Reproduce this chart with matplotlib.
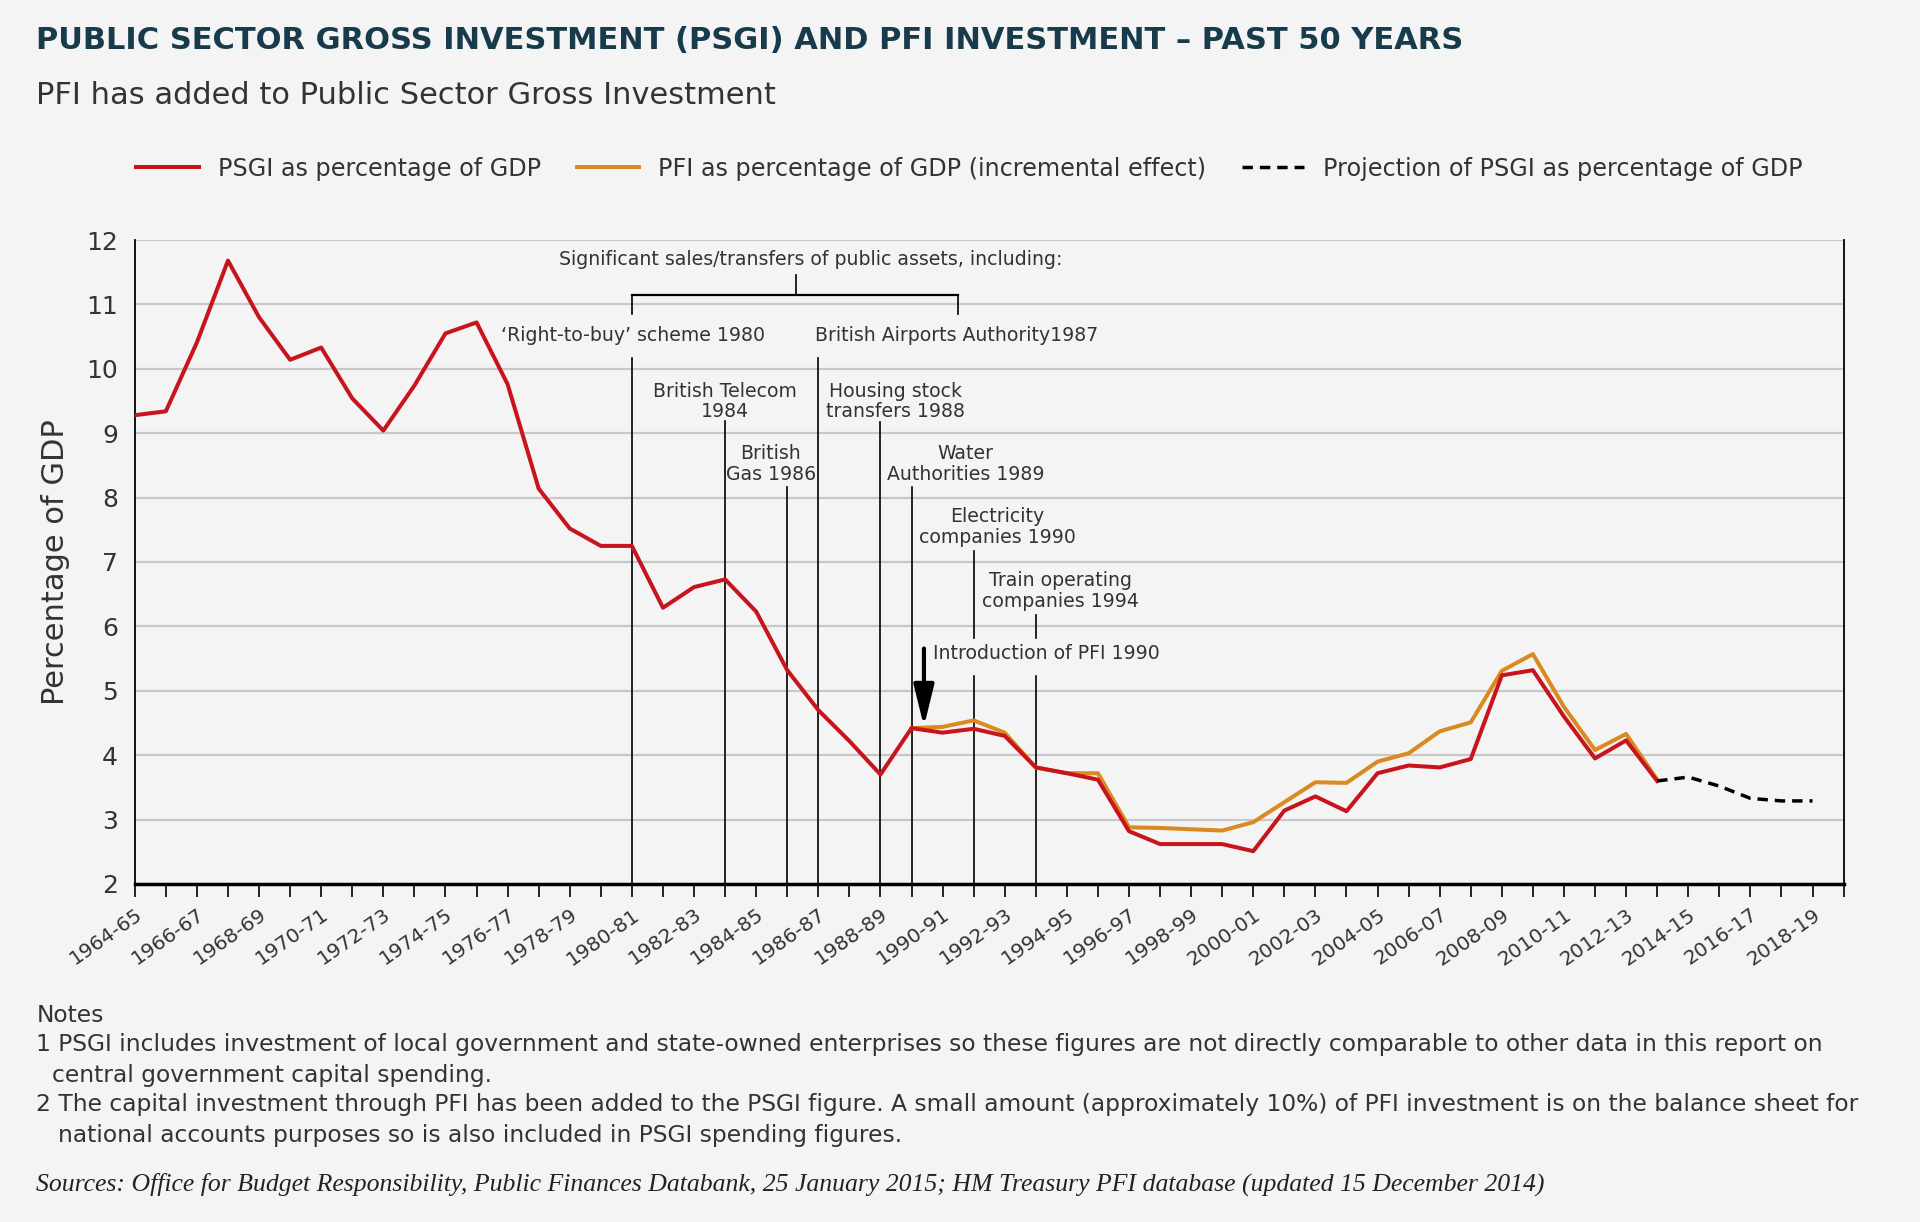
import matplotlib.pyplot as plt
from matplotlib.lines import Line2D

# fiscal years on the x axis (one slot per year, label every other one)
years = ["1964-65", "1965-66", "1966-67", "1967-68", "1968-69", "1969-70", "1970-71",
         "1971-72", "1972-73", "1973-74", "1974-75", "1975-76", "1976-77", "1977-78",
         "1978-79", "1979-80", "1980-81", "1981-82", "1982-83", "1983-84", "1984-85",
         "1985-86", "1986-87", "1987-88", "1988-89", "1989-90", "1990-91", "1991-92",
         "1992-93", "1993-94", "1994-95", "1995-96", "1996-97", "1997-98", "1998-99",
         "1999-00", "2000-01", "2001-02", "2002-03", "2003-04", "2004-05", "2005-06",
         "2006-07", "2007-08", "2008-09", "2009-10", "2010-11", "2011-12", "2012-13",
         "2013-14", "2014-15", "2015-16", "2016-17", "2017-18", "2018-19"]

# PSGI as % of GDP, 1964-65 .. 2013-14
psgi = [9.28, 9.34, 10.41, 11.68, 10.80, 10.14, 10.33, 9.54, 9.04, 9.74,
        10.55, 10.72, 9.76, 8.14, 7.52, 7.25, 7.25, 6.29, 6.61, 6.73,
        6.23, 5.32, 4.70, 4.22, 3.70, 4.42, 4.35, 4.41, 4.30, 3.81,
        3.72, 3.62, 2.82, 2.62, 2.62, 2.62, 2.51, 3.14, 3.36, 3.13,
        3.72, 3.84, 3.81, 3.94, 5.24, 5.32, 4.60, 3.95, 4.23, 3.60]

# PSGI + PFI (incremental effect), 1989-90 .. 2013-14
pfi_start = 25
psgi_pfi = [4.42, 4.44, 4.54, 4.35, 3.81, 3.72, 3.72, 2.88, 2.87, 2.85,
            2.83, 2.96, 3.27, 3.58, 3.57, 3.90, 4.03, 4.37, 4.51, 5.31,
            5.57, 4.75, 4.08, 4.33, 3.62]

# projection, 2013-14 .. 2018-19
proj_start = 49
projection = [3.60, 3.66, 3.52, 3.33, 3.29, 3.29]

RED = "#c8141c"
ORANGE = "#d98a20"
BG = "#f4f4f4"
TXT = "#333333"

plt.rcParams['font.family'] = ['DejaVu Sans']

fig = plt.figure(figsize=(19.2, 12.22), dpi=100, facecolor=BG)
ax = fig.add_axes([0.0702, 0.2766, 0.890, 0.527], facecolor=BG)

x_all = list(range(len(years)))

ax.plot(x_all[pfi_start:pfi_start + len(psgi_pfi)], psgi_pfi, color=ORANGE, lw=2.9, zorder=3)
ax.plot(x_all[:len(psgi)], psgi, color=RED, lw=2.9, zorder=4)
ax.plot(x_all[proj_start:proj_start + len(projection)], projection, color="black",
        lw=2.5, ls=(0, (3, 2)), zorder=4)

ax.set_xlim(0, 55)
ax.set_ylim(2, 12)

# axes styling
ax.set_yticks(range(2, 13))
ax.set_yticklabels([str(v) for v in range(2, 13)], fontsize=18, color=TXT)
ax.tick_params(axis="y", length=0, pad=12)
ax.grid(axis="y", color="#c8c8c8", lw=1.6, zorder=0)
ax.set_xticks(range(0, 55, 2))
ax.set_xticklabels(years[::2], rotation=35, ha="right", rotation_mode="anchor",
                   fontsize=14.5, color=TXT)
ax.set_xticks(range(1, 56, 2), minor=True)
ax.tick_params(axis="x", which="both", length=9, width=1.2, color="black", pad=6)
ax.spines["top"].set_visible(False)
ax.spines["left"].set_linewidth(1.3)
ax.spines["right"].set_linewidth(1.3)
ax.spines["bottom"].set_linewidth(2.5)
ax.set_ylabel("Percentage of GDP", fontsize=22, color=TXT, labelpad=12)

# annotation lines: (x, y_top, y_bottom)
segments = [(16, 11.14, 10.85), (16, 10.16, 2), (26.5, 11.14, 10.85),
            (19, 9.19, 2), (21, 8.16, 2), (22, 10.16, 2), (24, 9.18, 2),
            (25, 8.16, 2), (27, 7.17, 5.82), (27, 5.23, 2), (29, 6.17, 5.82), (29, 5.23, 2),
            (21.27, 11.45, 11.14)]
for sx, y0, y1 in segments:
    ax.plot([sx, sx], [y0, y1], color="black", lw=1.2, zorder=2)
ax.plot([16, 26.5], [11.14, 11.14], color="black", lw=1.6, zorder=2)

# annotation texts: (text, x, y, ha)
notes_in_plot = [
    ("Significant sales/transfers of public assets, including:", 21.77, 11.70, "center"),
    ("\u2018Right-to-buy\u2019 scheme 1980", 16.04, 10.52, "center"),
    ("British Airports Authority1987", 21.9, 10.52, "left"),
    ("British Telecom\n1984", 19.0, 9.49, "center"),
    ("British\nGas 1986", 20.47, 8.52, "center"),
    ("Housing stock\ntransfers 1988", 24.48, 9.49, "center"),
    ("Water\nAuthorities 1989", 26.73, 8.52, "center"),
    ("Electricity\ncompanies 1990", 27.76, 7.54, "center"),
    ("Train operating\ncompanies 1994", 29.78, 6.55, "center"),
    ("Introduction of PFI 1990", 25.7, 5.58, "left"),
]
for t, tx, ty, ha in notes_in_plot:
    ax.text(tx, ty, t, ha=ha, va="center", fontsize=13.6, color=TXT,
            linespacing=1.1, zorder=5)

ax.annotate("", xy=(25.4, 4.40), xytext=(25.4, 5.7),
            arrowprops=dict(arrowstyle="-|>,head_length=0.9,head_width=0.22",
                            lw=3, color="black", mutation_scale=28), zorder=6)

# titles
fig.text(0.019, 0.967, "PUBLIC SECTOR GROSS INVESTMENT (PSGI) AND PFI INVESTMENT \u2013 PAST 50 YEARS",
         fontsize=22, fontweight="bold", color="#173b4b", va="center")
fig.text(0.019, 0.922, "PFI has added to Public Sector Gross Investment",
         fontsize=22, color=TXT, va="center")

handles = [Line2D([], [], color=RED, lw=2.9),
           Line2D([], [], color=ORANGE, lw=2.9),
           Line2D([], [], color="black", lw=2.5, ls=(0, (3, 2)))]
labels = ["PSGI as percentage of GDP",
          "PFI as percentage of GDP (incremental effect)",
          "Projection of PSGI as percentage of GDP"]
fig.legend(handles, labels, loc="center", bbox_to_anchor=(0.505, 0.862), ncol=3,
           frameon=False, fontsize=17.2, handlelength=2.6, columnspacing=1.5,
           labelcolor=TXT)

# notes and sources
fs = 16.8
fig.text(0.019, 0.169, "Notes", fontsize=fs, color=TXT, va="center")
fig.text(0.019, 0.145, "1 PSGI includes investment of local government and state-owned enterprises so these "
         "figures are not directly comparable to other data in this report on",
         fontsize=fs, color=TXT, va="center")
fig.text(0.027, 0.120, "central government capital spending.", fontsize=fs, color=TXT, va="center")
fig.text(0.019, 0.096, "2 The capital investment through PFI has been added to the PSGI figure. A small amount "
         "(approximately 10%) of PFI investment is on the balance sheet for",
         fontsize=fs, color=TXT, va="center")
fig.text(0.030, 0.071, "national accounts purposes so is also included in PSGI spending figures.",
         fontsize=fs, color=TXT, va="center")
fig.text(0.019, 0.031, "Sources: Office for Budget Responsibility, Public Finances Databank, 25 January 2015; "
         "HM Treasury PFI database (updated 15 December 2014)",
         fontsize=18.5, style="italic", family="Liberation Serif", color="#222222", va="center")

fig.savefig("out.png", dpi=100, facecolor=BG)
